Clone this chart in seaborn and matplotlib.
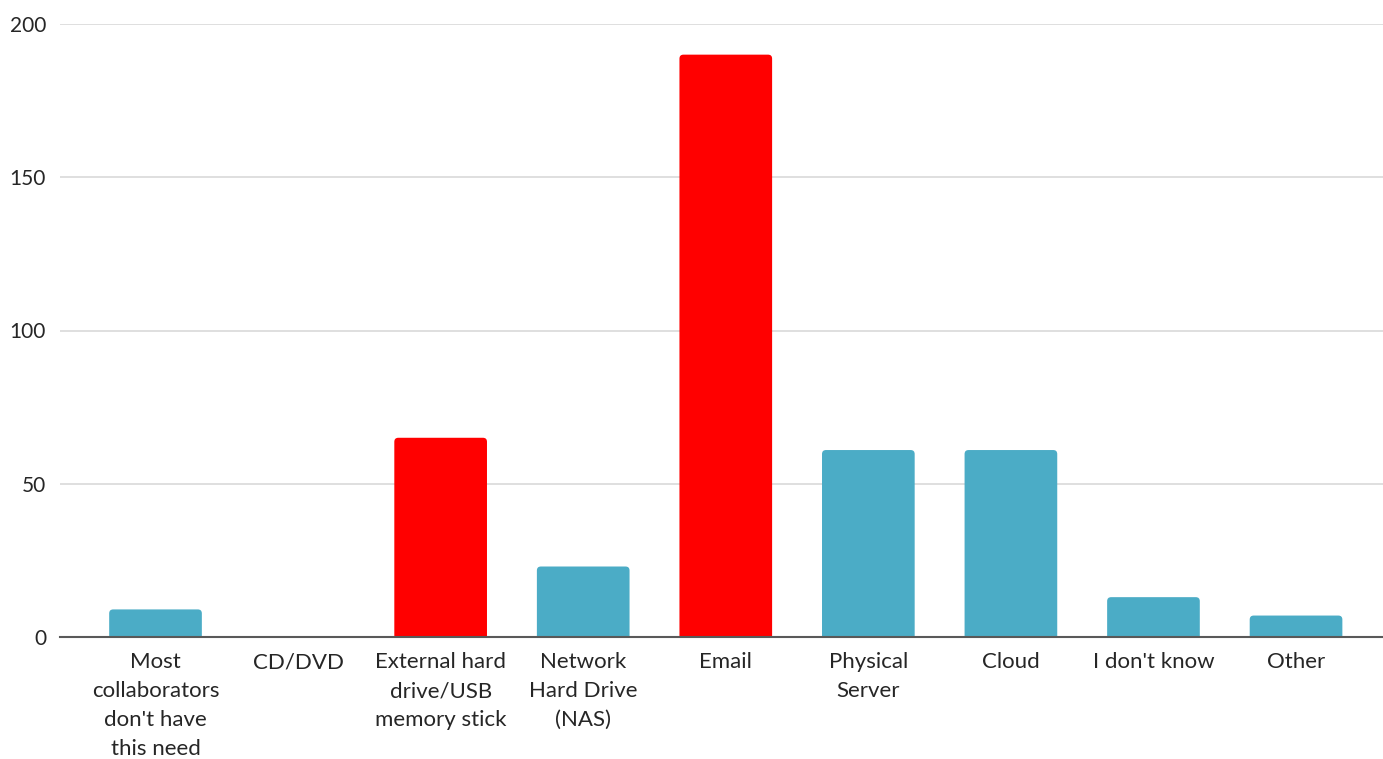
import matplotlib
matplotlib.use("Agg")
import matplotlib.pyplot as plt
import seaborn as sns
import pandas as pd
from matplotlib.patches import FancyBboxPatch

categories = [
    "Most\ncollaborators\ndon't have\nthis need",
    "CD/DVD",
    "External hard\ndrive/USB\nmemory stick",
    "Network\nHard Drive\n(NAS)",
    "Email",
    "Physical\nServer",
    "Cloud",
    "I don't know",
    "Other",
]
counts = [9, 0, 65, 23, 190, 61, 61, 13, 7]
highlight = [False, False, True, False, True, False, False, False, False]
y_ticks = [0, 50, 100, 150, 200]

TEAL = "#4BACC6"
RED = "#FF0000"

sns.set_theme(style="white")
plt.rcParams["font.family"] = ["Lato", "DejaVu Sans"]

df = pd.DataFrame({"category": categories, "count": counts,
                   "group": ["hi" if h else "lo" for h in highlight]})

W, H = 1383, 759
left_px, right_px, top_px, bottom_px = 60, 1383, 24, 637
fig = plt.figure(figsize=(W / 100, H / 100), dpi=100)
ax = fig.add_axes([left_px / W, 1 - bottom_px / H,
                   (right_px - left_px) / W, (bottom_px - top_px) / H])

sns.barplot(data=df, x="category", y="count", hue="group",
            palette={"hi": RED, "lo": TEAL}, dodge=False, width=0.65,
            legend=False, ax=ax, saturation=1)

xlim = (-0.67, 8.61)
ylim = (0, 200)
ax.set_xlim(*xlim)
ax.set_ylim(*ylim)

# data units per pixel on each axis, used to round the bar tops by a few pixels
x_per_px = (xlim[1] - xlim[0]) / (right_px - left_px)
y_per_px = (ylim[1] - ylim[0]) / (bottom_px - top_px)
radius_px = 4

for patch in list(ax.patches):
    x, y = patch.get_x(), patch.get_y()
    w, h = patch.get_width(), patch.get_height()
    color = patch.get_facecolor()
    patch.remove()
    if h <= 0:
        continue
    # extend below the baseline so the lower rounded corners are clipped away
    ext = radius_px * 2 * y_per_px
    ax.add_patch(FancyBboxPatch(
        (x, y - ext), w, h + ext,
        boxstyle=f"round,pad=0,rounding_size={radius_px * x_per_px}",
        mutation_aspect=y_per_px / x_per_px,
        facecolor=color, edgecolor="none", zorder=2))

ax.set_yticks(y_ticks)
ax.yaxis.grid(True, color="#D9D9D9", linewidth=1.2, zorder=0)
ax.set_axisbelow(True)
for side in ["top", "right", "left"]:
    ax.spines[side].set_visible(False)
ax.spines["bottom"].set_color("#595959")
ax.spines["bottom"].set_linewidth(1.5)
ax.spines["bottom"].set_zorder(3)
ax.set_xlabel("")
ax.set_ylabel("")
ax.set_xticks(range(len(categories)))
ax.set_xticklabels(categories, linespacing=1.55, ha="center")
ax.tick_params(axis="x", length=0, pad=11, labelsize=16, labelcolor="#262626")
ax.tick_params(axis="y", length=0, pad=10, labelsize=15, labelcolor="#262626")

fig.savefig("out.png", dpi=100, facecolor="white")
